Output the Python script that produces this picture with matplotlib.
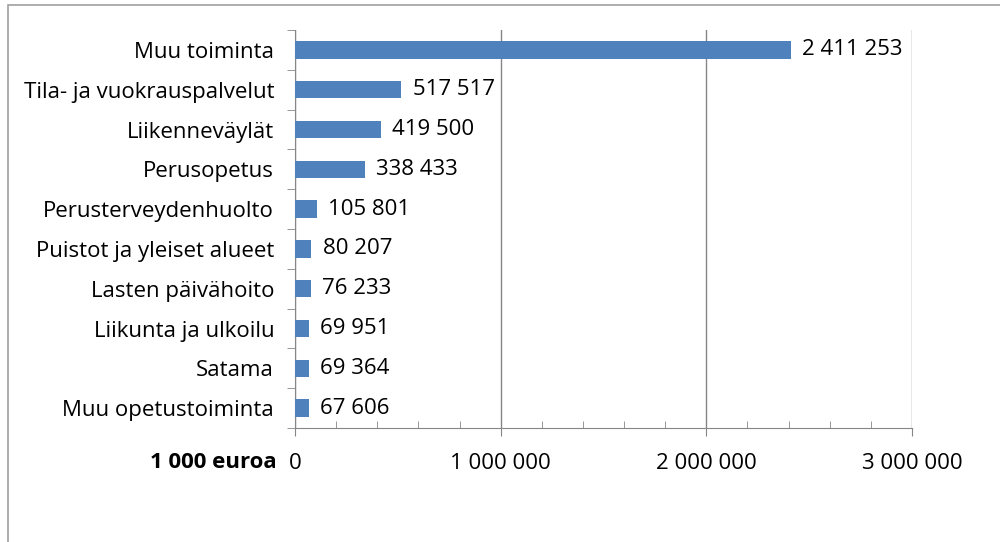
import numpy as np
import matplotlib.pyplot as plt
from matplotlib.patches import Rectangle
from matplotlib.ticker import FuncFormatter, MultipleLocator

plt.rcParams['font.family'] = ['Open Sans', 'DejaVu Sans']

# Menot toiminnoittain (1 000 euroa)
toiminnot = ["Muu toiminta", "Tila- ja vuokrauspalvelut", "Liikenneväylät",
             "Perusopetus", "Perusterveydenhuolto", "Puistot ja yleiset alueet",
             "Lasten päivähoito", "Liikunta ja ulkoilu", "Satama",
             "Muu opetustoiminta"]
arvot = [2411253, 517517, 419500, 338433, 105801, 80207, 76233, 69951, 69364, 67606]

def tuhaterotin(x):
    return f"{int(round(x)):,}".replace(",", " ")

fs = 16

fig = plt.figure(figsize=(10, 5.42), dpi=100)
ax = fig.add_axes([0.295, 0.2103, 0.617, 0.7343])

# reunus koko kuvan ympäri
fig.patches.append(Rectangle((8 / 1000, -0.05), 1.05, 1 - 5 / 542 + 0.05,
                             transform=fig.transFigure, fill=False,
                             edgecolor='#a0a0a0', linewidth=1.2))

y = np.arange(len(toiminnot))
ax.barh(y, arvot, height=0.435, color='#4f81bd', zorder=3)
ax.set_ylim(len(toiminnot) - 0.5, -0.5)
ax.set_xlim(0, 3000000)

for yi, v in zip(y, arvot):
    ax.annotate(tuhaterotin(v), (v, yi), xytext=(8, 0), textcoords='offset points',
                va='center', ha='left', fontsize=fs, color='black')

ax.set_yticks(y)
ax.set_yticklabels(toiminnot, fontsize=fs)
ax.set_yticks(np.arange(-0.5, len(toiminnot)), minor=True)
ax.tick_params(axis='y', which='major', length=0, pad=15)
ax.tick_params(axis='y', which='minor', length=6, direction='out', color='#868686')

ax.xaxis.set_major_locator(MultipleLocator(1000000))
ax.xaxis.set_minor_locator(MultipleLocator(200000))
ax.xaxis.set_major_formatter(FuncFormatter(lambda x, p: tuhaterotin(x)))
ax.tick_params(axis='x', which='major', length=6, direction='out', color='#868686',
               labelsize=fs, pad=12)
ax.tick_params(axis='x', which='minor', length=5, direction='in', color='#868686')

ax.grid(axis='x', which='major', color='#868686', linewidth=1, zorder=0)
for s in ['top', 'right']:
    ax.spines[s].set_visible(False)
for s in ['left', 'bottom']:
    ax.spines[s].set_color('#868686')

fig.text(0.277, 1 - 462 / 542, "1 000 euroa", ha='right', va='center',
         fontsize=fs, fontweight='bold')

fig.savefig('out.png', dpi=100)
